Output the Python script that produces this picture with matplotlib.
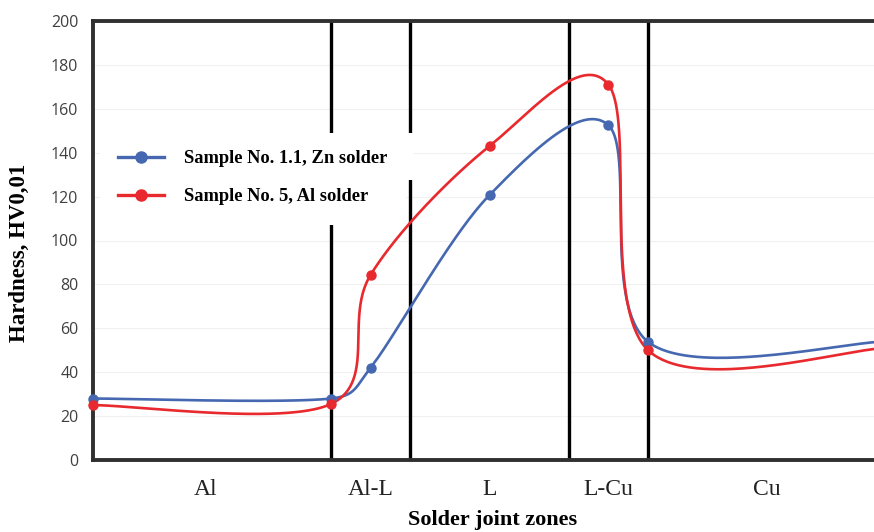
import numpy as np
import matplotlib
matplotlib.use("Agg")
import matplotlib.pyplot as plt
from matplotlib.lines import Line2D
from matplotlib.patches import Rectangle

# ---- data ----
zone_labels = ["Al", "Al-L", "L", "L-Cu", "Cu"]
zone_label_pos = [1.42, 3.5, 5.0, 6.5, 8.5]
zone_bounds = [3, 4, 6, 7]
x_points = [0, 3, 3.5, 5, 6.5, 7, 10]
zn_values = [28, 28, 42, 120.7, 152.5, 53.8, 54]
al_values = [25, 25.5, 84.3, 143, 171, 50, 51]
series_names = ["Sample No. 1.1, Zn solder", "Sample No. 5, Al solder"]
yticks = list(range(0, 201, 20))

BLUE = "#4568b0"
RED = "#e8292e"

# pixel scale of the axes (for Excel-like smoothing done in screen space)
SX, SY = 793 / 10.0, 439 / 200.0


def smooth(xs, ys, n=80):
    P = np.column_stack([np.asarray(xs, float) * SX, np.asarray(ys, float) * SY])
    out = []
    m = len(P)
    t = np.linspace(0, 1, n)[:, None]
    for i in range(m - 1):
        p0 = P[i - 1] if i > 0 else P[i]
        p1, p2 = P[i], P[i + 1]
        p3 = P[i + 2] if i + 2 < m else P[i + 1]
        d12 = np.hypot(*(p2 - p1))
        d02 = np.hypot(*(p2 - p0))
        d13 = np.hypot(*(p3 - p1))
        f = 1 / 6 if d02 / 6 < d12 / 2 else d12 / (2 * d02)
        g = 1 / 6 if d13 / 6 < d12 / 2 else d12 / (2 * d13)
        c1 = p1 + f * (p2 - p0)
        c2 = p2 - g * (p3 - p1)
        seg = ((1 - t) ** 3) * p1 + 3 * t * (1 - t) ** 2 * c1 + 3 * t ** 2 * (1 - t) * c2 + t ** 3 * p2
        out.append(seg if i == 0 else seg[1:])
    s = np.vstack(out)
    return s[:, 0] / SX, s[:, 1] / SY


fig = plt.figure(figsize=(8.74, 5.32), dpi=100)
ax = fig.add_axes([93 / 874, (532 - 460) / 532, (886 - 93) / 874, (460 - 21) / 532])

ax.set_xlim(0, 10)
ax.set_ylim(0, 200)

for y in yticks[1:]:
    ax.axhline(y, color="#f0f0f0", lw=0.8, zorder=0)

for b in zone_bounds:
    ax.axvline(b, color="black", lw=2.4, zorder=1)

for vals, col in [(zn_values, BLUE), (al_values, RED)]:
    sx, sy = smooth(x_points, vals)
    ax.plot(sx, sy, color=col, lw=1.9, zorder=3)
    ax.plot(x_points, vals, "o", color=col, ms=6.5, zorder=4, clip_on=False)

# white boxes behind legend
ax.add_patch(Rectangle((7 / 793, (460 - 180) / 439), (414 - 100) / 793, 47 / 439,
                       transform=ax.transAxes, facecolor="white", edgecolor="none", zorder=2))
ax.add_patch(Rectangle((7 / 793, (460 - 225) / 439), (406 - 100) / 793, 46 / 439,
                       transform=ax.transAxes, facecolor="white", edgecolor="none", zorder=2))

handles = [Line2D([], [], color=BLUE, lw=2.4, marker="o", ms=8),
           Line2D([], [], color=RED, lw=2.4, marker="o", ms=8)]
leg = ax.legend(handles, series_names, loc="upper left",
                bbox_to_anchor=(25 / 793, (460 - 150) / 439), frameon=False,
                prop={"family": "Liberation Serif", "weight": "bold", "size": 13.3},
                handlelength=2.5, handletextpad=1.05, labelspacing=1.15, borderaxespad=0,
                borderpad=0)

ax.set_yticks(yticks)
ax.set_yticklabels([str(v) for v in yticks], fontsize=11.5, color="#404040", family="Open Sans")
ax.set_xticks(zone_label_pos)
ax.set_xticklabels(zone_labels, fontsize=17, family="Liberation Serif", color="#222222")
ax.tick_params(axis="y", length=0, pad=10.5)
ax.tick_params(axis="x", length=0, pad=14)

for sp in ["top", "left", "bottom"]:
    ax.spines[sp].set_linewidth(2.8)
    ax.spines[sp].set_color("#303030")
ax.spines["right"].set_visible(False)

ax.set_ylabel("Hardness, HV0,01", family="Liberation Serif", weight="bold", fontsize=16.5)
ax.set_xlabel("Solder joint zones", family="Liberation Serif", weight="bold", fontsize=16)
ax.xaxis.set_label_coords((493 - 93) / 793, -(520 - 460) / 439)
ax.yaxis.set_label_coords(-(93 - 19) / 793, (460 - 253) / 439)
ax.xaxis.label.set_va("center")
ax.yaxis.label.set_va("center")

fig.savefig("out.png", dpi=100)
